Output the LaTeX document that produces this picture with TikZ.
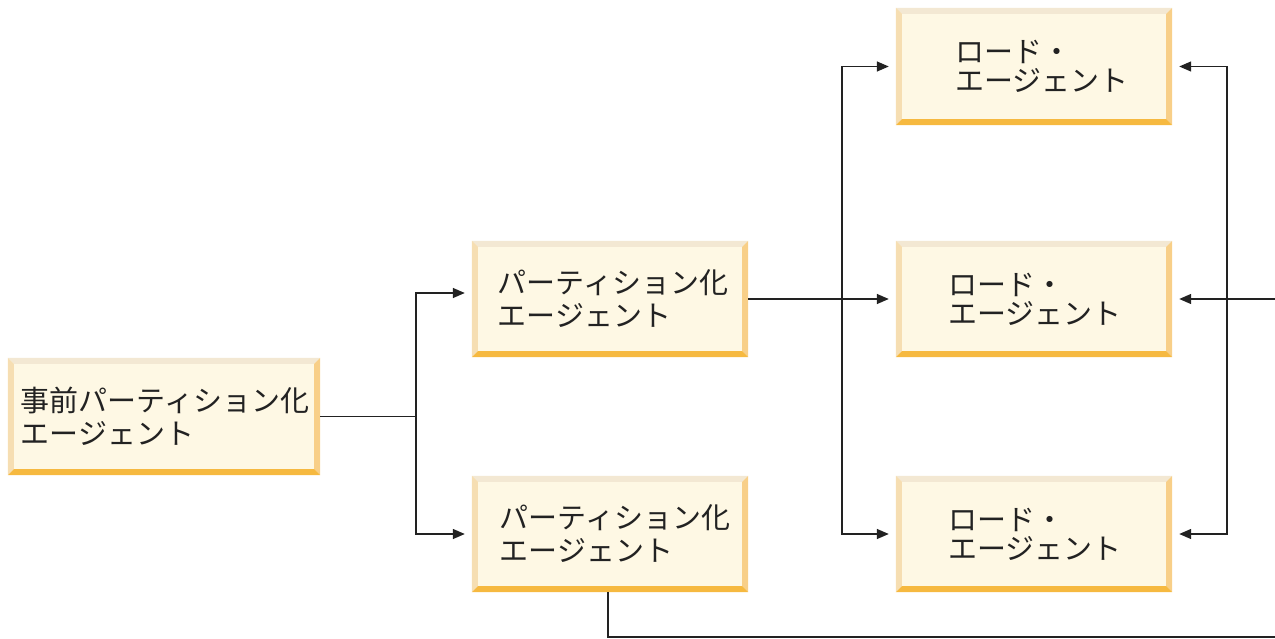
\documentclass[tikz,border=0pt]{standalone}
\usepackage{fontspec}
\setmainfont{Noto Sans CJK JP}
\usetikzlibrary{arrows.meta,calc}
\definecolor{boxfill}{HTML}{FEF8E4}
\definecolor{bvtop}{HTML}{F3E8D3}
\definecolor{bvleft}{HTML}{F6DEB2}
\definecolor{bvright}{HTML}{F8CF88}
\definecolor{bvbottom}{HTML}{F6B940}
\definecolor{linec}{HTML}{222222}
\tikzset{
  box/.style={fill=boxfill, inner sep=0pt},
  lbl/.style={inner sep=0pt, align=left, text=linec, font=\fontsize{29}{33}\selectfont},
  lblc/.style={lbl, font=\fontsize{29}{29}\selectfont},
  wire/.style={draw=linec, line width=1.4pt},
  arr/.style={wire, -{Triangle[length=12pt,width=10pt]}, shorten >=7pt},
}
\begin{document}
\begin{tikzpicture}[x=1pt,y=-1pt]
\useasboundingbox (0,0) rectangle (1275,639);
\node[box, minimum width=312pt, minimum height=117pt] (a) at (164,416.5) {};
\node[box, minimum width=276pt, minimum height=116pt] (b1) at (610,299) {};
\node[box, minimum width=276pt, minimum height=116pt] (b2) at (610,534) {};
\node[box, minimum width=276pt, minimum height=117pt] (c1) at (1034,66.5) {};
\node[box, minimum width=276pt, minimum height=116pt] (c2) at (1034,299) {};
\node[box, minimum width=276pt, minimum height=116pt] (c3) at (1034,534) {};
\foreach \n in {a,b1,b2,c1,c2,c3}{
  \fill[bvtop] (\n.north west) -- (\n.north east) -- ([shift={(-6,6)}]\n.north east) -- ([shift={(6,6)}]\n.north west) -- cycle;
  \fill[bvleft] (\n.north west) -- (\n.south west) -- ([shift={(6,-6)}]\n.south west) -- ([shift={(6,6)}]\n.north west) -- cycle;
  \fill[bvright] (\n.north east) -- (\n.south east) -- ([shift={(-6,-6)}]\n.south east) -- ([shift={(-6,6)}]\n.north east) -- cycle;
  \fill[bvbottom] (\n.south west) -- (\n.south east) -- ([shift={(-6,-6)}]\n.south east) -- ([shift={(6,-6)}]\n.south west) -- cycle;
}
\node[lbl] (ta) at ([xshift=1pt]a.center) {事前パーティション化\\エージェント};
\node[lbl] (tb1) at ([xshift=3pt]b1.center) {パーティション化\\エージェント};
\node[lbl] (tb2) at ([xshift=5pt]b2.center) {パーティション化\\エージェント};
\node[lblc] (tc1) at ([xshift=8pt]c1.center) {ロード・\\エージェント};
\node[lblc] (tc2) at ([xshift=1pt]c2.center) {ロード・\\エージェント};
\node[lblc] (tc3) at ([xshift=1pt]c3.center) {ロード・\\エージェント};
% left fan-out
\coordinate (j1) at (416,416.5);
\draw[wire] (a.east) -- (j1);
\draw[arr] (j1) |- ([yshift=6pt]b1.west);
\draw[arr] (j1) |- (b2.west);
% middle
\coordinate (j2) at (842,299);
\draw[arr] (b1.east) -- (c2.west);
\draw[arr] (j2) |- (c1.west);
\draw[arr] (j2) |- (c3.west);
% right side
\coordinate (r1) at (1275,299);
\coordinate (r2) at (1227,299);
\draw[arr] (r1) -- (c2.east);
\draw[arr] (r2) |- (c1.east);
\draw[arr] (r2) |- (c3.east);
% bottom
\coordinate (r3) at (1275,637);
\draw[wire] ([xshift=-2pt]b2.south) |- (r3);
\end{tikzpicture}
\end{document}
